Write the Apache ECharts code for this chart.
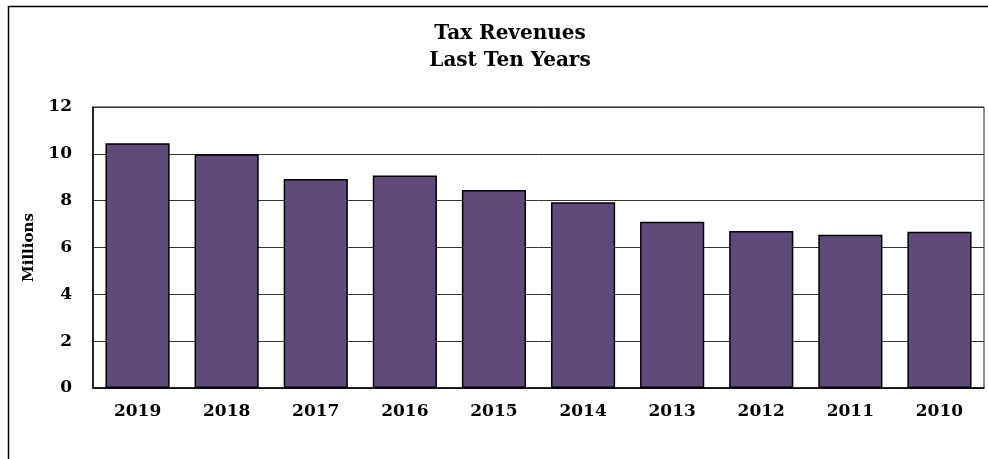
<!DOCTYPE html>
<html>
<head>
<meta charset="utf-8">
<script src="https://cdn.jsdelivr.net/npm/echarts@6/dist/echarts.min.js"></script>
<style>
html,body{margin:0;padding:0;background:#fff;}
#chart{width:988px;height:459px;}
</style>
</head>
<body>
<div id="chart"></div>
<script>
const titleLines = ["Tax Revenues", "Last Ten Years"];
const categories = ["2019","2018","2017","2016","2015","2014","2013","2012","2011","2010"];
const revenues = [10.45, 9.98, 8.93, 9.08, 8.46, 7.93, 7.10, 6.70, 6.54, 6.67];
const yAxisName = "Millions";
const yTicks = {min: 0, max: 12, interval: 2};

const FONT = "DejaVu Serif";
const chart = echarts.init(document.getElementById('chart'), null, {renderer: 'canvas'});
chart.setOption({
  animation: false,
  backgroundColor: '#fff',
  title: {
    text: titleLines.join('\n'),
    left: 505, top: 15, textAlign: 'center',
    textStyle: {fontFamily: FONT, fontWeight: 'bold', fontSize: 20, lineHeight: 27, color: '#000'}
  },
  graphic: [{
    type: 'rect', silent: true,
    shape: {x: 8.5, y: 6.5, width: 1000, height: 500},
    style: {fill: 'none', stroke: '#000', lineWidth: 1.5}
  }],
  grid: {left: 93, top: 107, right: 4, bottom: 71, show: true, borderColor: '#222', borderWidth: 1, backgroundColor: 'transparent'},
  xAxis: {
    type: 'category', data: categories,
    axisLine: {show: true, lineStyle: {color: '#000', width: 1.5}},
    axisTick: {show: false},
    axisLabel: {fontFamily: FONT, fontWeight: 'bold', fontSize: 17, color: '#000', margin: 15}
  },
  yAxis: {
    type: 'value', min: yTicks.min, max: yTicks.max, interval: yTicks.interval,
    name: yAxisName, nameLocation: 'middle', nameGap: 56, nameRotate: 90,
    nameTextStyle: {fontFamily: FONT, fontWeight: 'bold', fontSize: 15, color: '#000'},
    axisLine: {show: true, lineStyle: {color: '#000', width: 1.5}},
    axisTick: {show: false},
    axisLabel: {fontFamily: FONT, fontWeight: 'bold', fontSize: 17, color: '#000', margin: 21},
    splitLine: {show: true, lineStyle: {color: '#333', width: 1}}
  },
  series: [{
    type: 'bar', data: revenues, barCategoryGap: '28%',
    itemStyle: {color: '#604A7B', borderColor: '#000', borderWidth: 1.5}
  }]
});
</script>
</body>
</html>
